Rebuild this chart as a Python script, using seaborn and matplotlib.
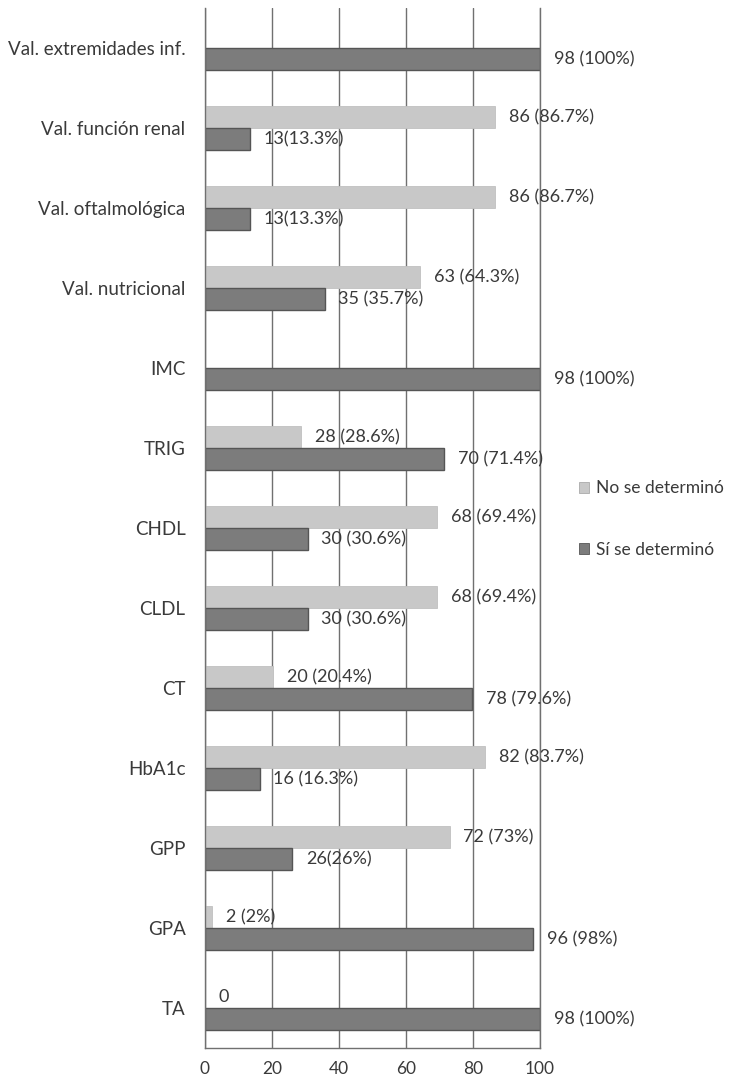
import matplotlib
matplotlib.use("Agg")
import matplotlib.pyplot as plt
from matplotlib.patches import Patch
import seaborn as sns
import pandas as pd

# Categories, top to bottom
categorias = [
    "Val. extremidades inf.", "Val. función renal", "Val. oftalmológica",
    "Val. nutricional", "IMC", "TRIG", "CHDL", "CLDL", "CT", "HbA1c",
    "GPP", "GPA", "TA",
]

# Percentages (bar lengths) for each series
pct_no = [0, 86.7, 86.7, 64.3, 0, 28.6, 69.4, 69.4, 20.4, 83.7, 73, 2, 0]
pct_si = [100, 13.3, 13.3, 35.7, 100, 71.4, 30.6, 30.6, 79.6, 16.3, 26, 98, 100]

# Value labels as printed next to each bar
etiq_no = ["", "86 (86.7%)", "86 (86.7%)", "63 (64.3%)", "", "28 (28.6%)",
           "68 (69.4%)", "68 (69.4%)", "20 (20.4%)", "82 (83.7%)", "72 (73%)",
           "2 (2%)", "0"]
etiq_si = ["98 (100%)", "13(13.3%)", "13(13.3%)", "35 (35.7%)", "98 (100%)",
           "70 (71.4%)", "30 (30.6%)", "30 (30.6%)", "78 (79.6%)", "16 (16.3%)",
           "26(26%)", "96 (98%)", "98 (100%)"]

series = ["No se determinó", "Sí se determinó"]
colores = {"No se determinó": "#c8c8c8", "Sí se determinó": "#7c7c7c"}
xticks = [0, 20, 40, 60, 80, 100]

df = pd.DataFrame({
    "categoria": categorias * 2,
    "valor": pct_no + pct_si,
    "serie": [series[0]] * len(categorias) + [series[1]] * len(categorias),
})

sns.set_theme(style="white")
plt.rcParams["font.family"] = ["Lato", "DejaVu Sans"]
texto = "#3a3a3a"
linea = "#707070"

fig = plt.figure(figsize=(7.39, 10.81), dpi=100)
ax = fig.add_axes([205 / 739, 1 - 1048 / 1081, 335 / 739, 1040 / 1081])

sns.barplot(data=df, y="categoria", x="valor", hue="serie", order=categorias,
            hue_order=series, palette=colores, orient="h", width=0.55,
            errorbar=None, ax=ax, legend=False)

# edges: dark series gets a darker outline, light one a faint one
for patch in ax.containers[0]:
    patch.set_edgecolor("#c0c0c0")
    patch.set_linewidth(0.6)
for patch in ax.containers[1]:
    patch.set_edgecolor("#555555")
    patch.set_linewidth(1.0)

# value labels
for cont, etiquetas in zip(ax.containers, [etiq_no, etiq_si]):
    for patch, lab in zip(cont, etiquetas):
        if not lab:
            continue
        y = patch.get_y() + patch.get_height() / 2
        ax.annotate(lab, xy=(patch.get_width(), y), xytext=(10, 0),
                    textcoords="offset points", va="center", ha="left",
                    fontsize=13, color=texto)

ax.set_xlim(0, 100)
ax.set_xticks(xticks)
ax.set_xlabel("")
ax.set_ylabel("")
ax.xaxis.grid(True, color=linea, linewidth=1.0)
ax.yaxis.grid(False)
ax.set_axisbelow(True)
ax.spines["top"].set_visible(False)
for side in ["left", "bottom", "right"]:
    ax.spines[side].set_visible(True)
    ax.spines[side].set_color(linea)
    ax.spines[side].set_linewidth(1.0)
ax.tick_params(axis="x", length=0, pad=9, labelsize=12.5, labelcolor=texto)
ax.tick_params(axis="y", length=0, pad=14, labelsize=13.5, labelcolor=texto)

# legend
handles = [Patch(facecolor=colores[s], edgecolor="#aaaaaa" if i == 0 else "#555555",
                 linewidth=0.6) for i, s in enumerate(series)]
fig.legend(handles, series, loc="center left",
           bbox_to_anchor=(576 / 739, 1 - 519 / 1081), frameon=False,
           borderpad=0.2, borderaxespad=0.0,
           fontsize=12.5, labelcolor=texto, handlelength=0.55,
           handleheight=0.55, handletextpad=0.4, labelspacing=2.6)

fig.savefig("out.png", dpi=100)
